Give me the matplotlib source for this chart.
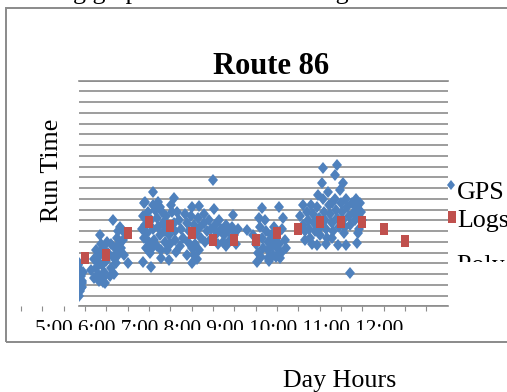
import matplotlib
matplotlib.use("Agg")
import matplotlib.pyplot as plt
import numpy as np
from matplotlib.lines import Line2D
from matplotlib.markers import MarkerStyle
from matplotlib.patches import Rectangle
from matplotlib.transforms import Affine2D, Bbox, TransformedBbox

plt.rcParams['font.family'] = ['Liberation Serif', 'DejaVu Serif']

# GPS readings: time of day (hours) and run time (minutes)
gps_time = [
    4.86, 4.88, 4.90, 4.86, 4.92, 4.88, 4.86, 4.93, 4.95, 4.84, 4.90, 4.92,
    5.15, 5.20, 5.22, 5.25, 5.27, 5.28, 5.30, 5.33, 5.35, 5.35, 5.38, 5.40,
    5.42, 5.43, 5.43, 5.45, 5.48, 5.50, 5.52, 5.55, 5.58, 5.60, 5.62, 5.65,
    5.66, 5.68, 5.70, 5.72, 5.75, 5.78, 5.78, 5.80, 5.82, 5.85, 5.88, 5.90,
    5.92, 6.01,
    6.33, 6.35, 6.37, 6.38, 6.38, 6.40, 6.41, 6.42, 6.45, 6.48, 6.50, 6.52,
    6.54, 6.55, 6.59, 6.58, 6.60, 6.60, 6.62, 6.65, 6.68, 6.70, 6.71, 6.72,
    6.75, 6.75, 6.78, 6.78, 6.80, 6.82, 6.85, 6.88, 6.90, 6.92, 6.95, 6.98,
    6.98, 7.00, 7.02, 7.05, 7.08, 7.09, 7.10, 7.12,
    7.13, 7.15, 7.20, 7.22, 7.25, 7.30, 7.35, 7.40, 7.40, 7.42, 7.45, 7.48,
    7.50, 7.50, 7.52, 7.55, 7.55, 7.58, 7.60, 7.62, 7.65, 7.68, 7.68, 7.70,
    7.72, 7.78, 7.80, 7.82, 7.85, 7.90, 7.92, 7.95, 7.99, 8.02,
    8.05, 8.10, 8.12, 8.15, 8.20, 8.24, 8.25, 8.30, 8.30, 8.35, 8.40, 8.45,
    8.48, 8.50, 8.55, 8.58, 8.79,
    8.95, 9.00, 9.04, 9.05, 9.08, 9.10, 9.12, 9.15, 9.16, 9.18, 9.22, 9.25,
    9.28, 9.28, 9.30, 9.32, 9.35, 9.38, 9.40, 9.42, 9.45, 9.48, 9.50, 9.52,
    9.55, 9.55, 9.57, 9.60, 9.62, 9.65, 9.68, 9.72,
    10.05, 10.10, 10.12, 10.15, 10.16, 10.20, 10.22, 10.25, 10.28, 10.30,
    10.32, 10.35, 10.38, 10.40, 10.44, 10.45, 10.47, 10.48, 10.50, 10.52,
    10.55, 10.57, 10.58, 10.60, 10.62, 10.65, 10.65, 10.68, 10.70, 10.72,
    10.75, 10.78, 10.78, 10.80, 10.82, 10.85, 10.86, 10.88, 10.90, 10.91,
    10.94, 10.95, 10.98, 11.00, 11.02, 11.05, 11.05, 11.08, 11.09, 11.12,
    11.13, 11.15, 11.20, 11.21, 11.22, 11.25, 11.30, 11.32, 11.35, 11.38,
    11.38, 11.40, 11.41, 11.42, 11.45, 11.48, 11.50,
]
gps_run = [
    20, 17, 14, 11, 9, 7, 5, 12, 16, 19, 8.5, 10.7,
    17, 22, 13, 18, 26, 21, 15, 12, 24, 33, 29, 19,
    27, 13, 11.4, 16, 11, 21, 30, 25, 14, 29, 18, 23,
    40, 15, 27, 20, 32, 24, 35, 29, 37, 27, 35, 31,
    24, 20,
    36, 42, 20.7, 47.9, 32, 38, 48.6, 27, 34, 44, 30, 25,
    18.4, 40, 53, 27, 36, 47, 31, 45, 28, 41, 48.6, 37,
    33, 46, 22.3, 26, 44, 39, 35, 30, 42, 26, 38, 21.5,
    33, 29, 47, 44, 39, 50.5, 35, 31,
    25.4, 44, 40, 28, 36, 32, 43, 39, 24, 30, 35, 42,
    27, 46.3, 20, 38, 24, 29, 34, 22, 41, 46.8, 26, 37,
    32, 43, 39, 30, 35, 40, 31, 36, 58.7, 45.1,
    38, 34, 29, 40, 36, 30, 33, 38, 28, 35, 31, 37,
    42.5, 33, 29, 36, 35.5,
    33, 29, 20.5, 25, 41, 37, 23, 32, 45.6, 27, 40, 35,
    22.3, 30, 26, 21, 33, 28, 24, 37, 31, 23, 27, 34,
    46.3, 29, 22.6, 25, 36, 40.9, 31, 27,
    42, 38, 47.1, 35, 30.8, 44, 40, 36, 32, 47,
    29, 43, 39, 35, 28.5, 46, 51.8, 41, 37, 33,
    57.2, 64.2, 50, 44, 40, 36, 29, 32, 53, 47,
    43, 47.9, 31.6, 39, 35, 50, 61.1, 45, 41, 65.7,
    28.5, 37, 54, 48, 44, 57.2, 40, 34, 37, 50,
    28.5, 46, 42, 15.3, 38, 48, 44, 40, 50, 46,
    29.5, 42, 33.9, 36, 48, 44, 40,
]

# Logged run times, every half hour
logs_time = [5.0, 5.5, 6.0, 6.5, 7.0, 7.5, 8.0, 8.5,
             9.0, 9.5, 10.0, 10.5, 11.0, 11.5, 12.0, 12.5]
logs_run = [22.4, 23.9, 33.9, 39.4, 37.5, 33.9, 30.8, 30.8,
            30.8, 33.9, 35.8, 39.4, 39.4, 39.4, 35.8, 30.5]

hour_labels = ["5:00", "6:00", "7:00", "8:00", "9:00", "10:00", "11:00", "12:00"]
legend_labels = ["GPS", "Logs", "Poly. (GPS)"]
extra_ticks = [3.5, 4.0, 4.5]

BLUE = '#4f81bd'
RED = '#c0504d'
GRID = '#8c8c8c'
W, H = 507, 392

fig = plt.figure(figsize=(W / 100, H / 100), dpi=100)
ax = fig.add_axes([79 / W, 1 - 306.3 / H, 369 / W, 225.6 / H])

diamond = MarkerStyle('D', transform=Affine2D().scale(0.75, 1.0))
square = MarkerStyle('s', transform=Affine2D().scale(0.68, 1.0))

ax.plot(gps_time, gps_run, ls='none', marker=diamond, ms=6.4, mew=0, color=BLUE, zorder=3)
ax.plot(logs_time, logs_run, ls='none', marker=square, ms=9.3, mew=0, color=RED, zorder=4)

ax.set_xlim(4.86, 13.51)
ax.set_ylim(0, 105)
ax.set_yticks(np.arange(0, 106, 5))
ax.set_xticks(np.arange(5, 13.01, 0.5))
ax.tick_params(axis='y', length=0, labelleft=False)
ax.tick_params(axis='x', length=3.6, width=0.8, color=GRID, labelbottom=False, direction='out')
ax.yaxis.grid(True, color=GRID, lw=1.2)
ax.set_axisbelow(True)
for s in ['left', 'right']:
    ax.spines[s].set_visible(False)
for s in ['top', 'bottom']:
    ax.spines[s].set_color(GRID)
    ax.spines[s].set_linewidth(1.2)

# stray ticks left of the plot area
ax.plot(extra_ticks, [0] * len(extra_ticks), ls='none', marker=3, ms=3.6, mew=0.8,
        color=GRID, clip_on=False)

# titles and axis labels
fig.text(271 / W, 1 - 74 / H, 'Route 86', ha='center', va='baseline',
         fontsize=22, fontweight='bold')
fig.text(52 / W, 1 - 170 / H, 'Run Time', rotation=90, ha='center', va='center', fontsize=18.7)
fig.text(340 / W, 1 - 387 / H, 'Day Hours', ha='center', va='baseline', fontsize=18.7)

# hour labels row, cut off at the bottom
t = fig.text(35 / W, 1 - 334.5 / H, ' '.join(hour_labels), ha='left', va='baseline', fontsize=15.3)
t.set_clip_box(TransformedBbox(Bbox([[0, 1 - 330 / H], [1, 1]]), fig.transFigure))

# legend
fig.add_artist(Line2D([450.7 / W], [1 - 185 / H], transform=fig.transFigure, ls='none',
                      marker=diamond, ms=5.6, mew=0, color=BLUE))
fig.add_artist(Line2D([452 / W], [1 - 216.7 / H], transform=fig.transFigure, ls='none',
                      marker=square, ms=9, mew=0, color=RED))
fig.text(457 / W, 1 - 199 / H, legend_labels[0], va='baseline', fontsize=18.7)
fig.text(457 / W, 1 - 227 / H, legend_labels[1], va='baseline', fontsize=18.7)
t3 = fig.text(457 / W, 1 - 273 / H, legend_labels[2], va='baseline', fontsize=18.7)
t3.set_clip_box(TransformedBbox(Bbox([[0, 1 - 261.5 / H], [1, 1]]), fig.transFigure))

# document text above the chart (only descenders show)
fig.text(-62 / W, 1 + 0.5 / H, 'The following graph shows the running time over the logged',
         va='baseline', ha='left', fontsize=18.7)

# chart border
fig.add_artist(Rectangle((6 / W, 1 - 342 / H), 2, 334 / H, transform=fig.transFigure,
                         fill=False, ec='#8a8a8a', lw=1.4))

fig.savefig('out.png', dpi=100)
